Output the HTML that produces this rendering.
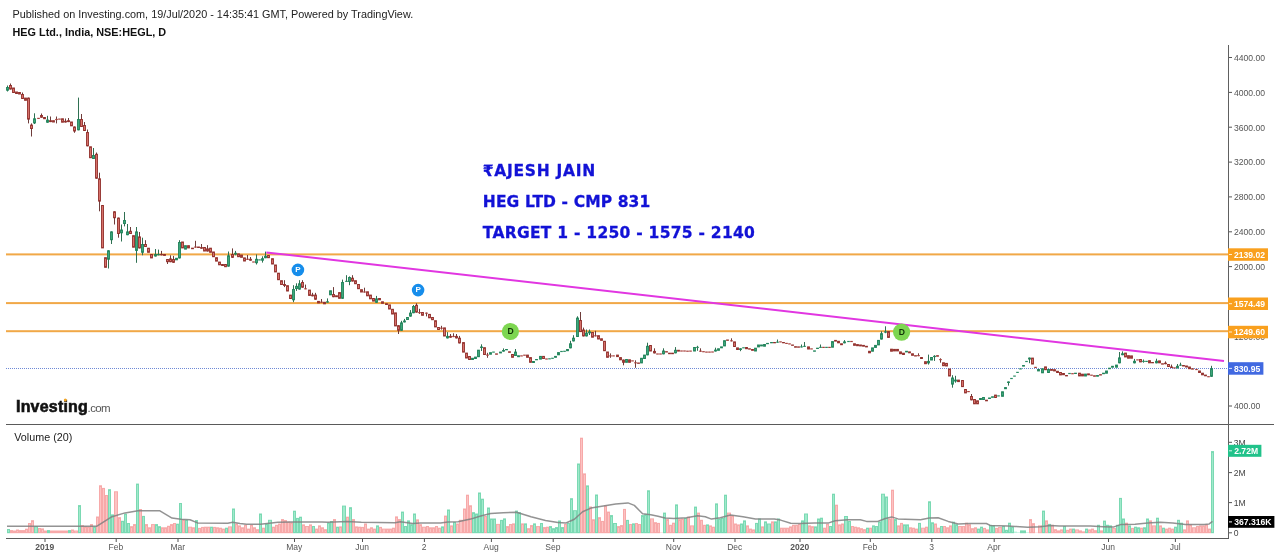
<!DOCTYPE html>
<html lang="en"><head><meta charset="utf-8"><title>HEG Ltd., India, NSE:HEGL, D</title>
<style>
html,body{margin:0;padding:0;background:#fff;}
body{width:1280px;height:557px;overflow:hidden;position:relative;font-family:"Liberation Sans",sans-serif;}
svg{position:absolute;left:0;top:0;display:block;}
text{font-family:"Liberation Sans",sans-serif;}
.ax{font-size:8.6px;fill:#555;}
.tm{font-size:8.5px;fill:#555;text-anchor:middle;}
.lb{font-size:8.6px;font-weight:bold;fill:#fff;}
.note{font-family:"DejaVu Sans","Liberation Sans",sans-serif;font-weight:bold;font-size:15.5px;fill:#1212d6;stroke:#1212d6;stroke-width:0.3px;}
.cu{fill:#45b083;stroke:#1f8259;stroke-width:1;}
.cd{fill:#e8827a;stroke:#902e2a;stroke-width:1;}
.wg{stroke:#2f7052;stroke-width:1;}
.wr{stroke:#6e3c3a;stroke-width:1;}
.vu{fill:#a0eacc;stroke:#7bd9b3;stroke-width:1;}
.vd{fill:#fcc3c3;stroke:#f7a9a9;stroke-width:1;}
</style></head><body>
<svg width="1280" height="557" viewBox="0 0 1280 557">
<rect x="0" y="0" width="1280" height="557" fill="#ffffff"/>
<text x="12.5" y="17.6" font-size="10.85px" fill="#222">Published on Investing.com, 19/Jul/2020 - 14:35:41 GMT, Powered by TradingView.</text>
<text x="12.5" y="35.6" font-size="10.85px" font-weight="bold" fill="#111">HEG Ltd., India, NSE:HEGL, D</text>
<rect x="6" y="253.4" width="1222.5" height="2" fill="#f0a137" opacity="0.92"/>
<rect x="6" y="302.1" width="1222.5" height="2" fill="#f0a137" opacity="0.92"/>
<rect x="6" y="330.2" width="1222.5" height="2" fill="#f0a137" opacity="0.92"/>
<line x1="6" y1="368.5" x2="1228" y2="368.5" stroke="#5575cf" stroke-width="1" stroke-dasharray="1 1" opacity="0.85"/>
<g>
<rect class="vu" x="7.5" y="529.50" width="2.0" height="3.20"/>
<rect class="vd" x="10.5" y="530.60" width="2.0" height="2.10"/>
<rect class="vd" x="13.5" y="531.00" width="2.0" height="1.70"/>
<rect class="vd" x="16.5" y="530.00" width="2.0" height="2.70"/>
<rect class="vd" x="19.5" y="530.60" width="2.0" height="2.10"/>
<rect class="vd" x="22.5" y="530.60" width="2.0" height="2.10"/>
<rect class="vd" x="25.5" y="529.20" width="2.0" height="3.50"/>
<rect class="vd" x="28.5" y="523.50" width="2.0" height="9.20"/>
<rect class="vd" x="31.5" y="520.70" width="2.0" height="12.00"/>
<rect class="vu" x="34.5" y="526.70" width="3.0" height="6.00"/>
<rect class="vd" x="38.5" y="528.50" width="2.0" height="4.20"/>
<rect class="vd" x="41.5" y="528.90" width="2.0" height="3.80"/>
<rect class="vd" x="44.5" y="531.00" width="2.0" height="1.70"/>
<rect class="vu" x="47.5" y="530.60" width="2.0" height="2.10"/>
<rect class="vd" x="50.5" y="531.00" width="2.0" height="1.70"/>
<rect class="vd" x="53.5" y="531.00" width="2.0" height="1.70"/>
<rect class="vd" x="56.5" y="531.00" width="2.0" height="1.70"/>
<rect class="vd" x="59.5" y="531.00" width="2.0" height="1.70"/>
<rect class="vd" x="62.5" y="531.00" width="2.0" height="1.70"/>
<rect class="vd" x="65.5" y="531.00" width="2.0" height="1.70"/>
<rect class="vu" x="68.5" y="530.60" width="2.0" height="2.10"/>
<rect class="vd" x="71.5" y="530.00" width="2.0" height="2.70"/>
<rect class="vd" x="74.5" y="531.00" width="3.0" height="1.70"/>
<rect class="vu" x="78.5" y="505.60" width="2.0" height="27.10"/>
<rect class="vd" x="81.5" y="525.70" width="2.0" height="7.00"/>
<rect class="vd" x="84.5" y="526.70" width="2.0" height="6.00"/>
<rect class="vd" x="87.5" y="527.20" width="2.0" height="5.50"/>
<rect class="vd" x="90.5" y="524.60" width="2.0" height="8.10"/>
<rect class="vu" x="93.5" y="527.20" width="2.0" height="5.50"/>
<rect class="vd" x="96.5" y="517.00" width="2.0" height="15.70"/>
<rect class="vd" x="99.5" y="485.80" width="2.0" height="46.90"/>
<rect class="vd" x="102.5" y="488.40" width="2.0" height="44.30"/>
<rect class="vd" x="105.5" y="495.50" width="2.0" height="37.20"/>
<rect class="vu" x="108.5" y="489.70" width="2.0" height="43.00"/>
<rect class="vu" x="111.5" y="514.90" width="2.0" height="17.80"/>
<rect class="vd" x="114.5" y="491.80" width="3.0" height="40.90"/>
<rect class="vd" x="118.5" y="517.70" width="2.0" height="15.00"/>
<rect class="vu" x="121.5" y="521.30" width="2.0" height="11.40"/>
<rect class="vu" x="124.5" y="514.20" width="2.0" height="18.50"/>
<rect class="vu" x="127.5" y="523.50" width="2.0" height="9.20"/>
<rect class="vd" x="130.5" y="526.70" width="2.0" height="6.00"/>
<rect class="vd" x="133.5" y="524.60" width="2.0" height="8.10"/>
<rect class="vu" x="136.5" y="484.10" width="2.0" height="48.60"/>
<rect class="vd" x="139.5" y="509.50" width="2.0" height="23.20"/>
<rect class="vu" x="142.5" y="516.40" width="2.0" height="16.30"/>
<rect class="vd" x="145.5" y="524.60" width="2.0" height="8.10"/>
<rect class="vd" x="148.5" y="527.80" width="2.0" height="4.90"/>
<rect class="vd" x="151.5" y="524.60" width="3.0" height="8.10"/>
<rect class="vu" x="155.5" y="524.60" width="2.0" height="8.10"/>
<rect class="vu" x="158.5" y="526.70" width="2.0" height="6.00"/>
<rect class="vd" x="161.5" y="527.80" width="2.0" height="4.90"/>
<rect class="vd" x="164.5" y="527.80" width="2.0" height="4.90"/>
<rect class="vd" x="167.5" y="526.30" width="2.0" height="6.40"/>
<rect class="vd" x="170.5" y="524.60" width="2.0" height="8.10"/>
<rect class="vd" x="173.5" y="523.50" width="2.0" height="9.20"/>
<rect class="vu" x="176.5" y="524.20" width="2.0" height="8.50"/>
<rect class="vu" x="179.5" y="503.50" width="2.0" height="29.20"/>
<rect class="vd" x="182.5" y="519.80" width="2.0" height="12.90"/>
<rect class="vu" x="185.5" y="520.30" width="2.0" height="12.40"/>
<rect class="vd" x="188.5" y="527.20" width="3.0" height="5.50"/>
<rect class="vd" x="192.5" y="527.80" width="2.0" height="4.90"/>
<rect class="vu" x="195.5" y="520.60" width="2.0" height="12.10"/>
<rect class="vd" x="198.5" y="528.40" width="2.0" height="4.30"/>
<rect class="vd" x="201.5" y="527.40" width="2.0" height="5.30"/>
<rect class="vd" x="204.5" y="527.20" width="2.0" height="5.50"/>
<rect class="vd" x="207.5" y="527.20" width="2.0" height="5.50"/>
<rect class="vu" x="210.5" y="527.20" width="2.0" height="5.50"/>
<rect class="vd" x="213.5" y="527.40" width="2.0" height="5.30"/>
<rect class="vd" x="216.5" y="527.80" width="2.0" height="4.90"/>
<rect class="vd" x="219.5" y="528.20" width="2.0" height="4.50"/>
<rect class="vd" x="222.5" y="529.10" width="2.0" height="3.60"/>
<rect class="vu" x="225.5" y="528.20" width="2.0" height="4.50"/>
<rect class="vd" x="228.5" y="526.90" width="3.0" height="5.80"/>
<rect class="vu" x="232.5" y="509.00" width="2.0" height="23.70"/>
<rect class="vd" x="235.5" y="524.00" width="2.0" height="8.70"/>
<rect class="vd" x="238.5" y="525.90" width="2.0" height="6.80"/>
<rect class="vd" x="241.5" y="527.80" width="2.0" height="4.90"/>
<rect class="vd" x="244.5" y="525.30" width="2.0" height="7.40"/>
<rect class="vd" x="247.5" y="529.10" width="2.0" height="3.60"/>
<rect class="vd" x="250.5" y="525.30" width="2.0" height="7.40"/>
<rect class="vd" x="253.5" y="527.80" width="2.0" height="4.90"/>
<rect class="vd" x="256.5" y="529.70" width="2.0" height="3.00"/>
<rect class="vu" x="259.5" y="514.00" width="2.0" height="18.70"/>
<rect class="vd" x="262.5" y="528.20" width="2.0" height="4.50"/>
<rect class="vu" x="265.5" y="524.00" width="2.0" height="8.70"/>
<rect class="vu" x="268.5" y="520.30" width="3.0" height="12.40"/>
<rect class="vd" x="272.5" y="527.20" width="2.0" height="5.50"/>
<rect class="vd" x="275.5" y="525.30" width="2.0" height="7.40"/>
<rect class="vd" x="278.5" y="524.00" width="2.0" height="8.70"/>
<rect class="vd" x="281.5" y="519.60" width="2.0" height="13.10"/>
<rect class="vd" x="284.5" y="520.60" width="2.0" height="12.10"/>
<rect class="vd" x="287.5" y="522.20" width="2.0" height="10.50"/>
<rect class="vd" x="290.5" y="522.80" width="2.0" height="9.90"/>
<rect class="vu" x="293.5" y="511.20" width="2.0" height="21.50"/>
<rect class="vu" x="296.5" y="518.40" width="2.0" height="14.30"/>
<rect class="vu" x="299.5" y="517.20" width="2.0" height="15.50"/>
<rect class="vd" x="302.5" y="524.90" width="2.0" height="7.80"/>
<rect class="vd" x="305.5" y="526.50" width="3.0" height="6.20"/>
<rect class="vd" x="309.5" y="524.90" width="2.0" height="7.80"/>
<rect class="vu" x="312.5" y="526.50" width="2.0" height="6.20"/>
<rect class="vd" x="315.5" y="529.10" width="2.0" height="3.60"/>
<rect class="vd" x="318.5" y="525.90" width="2.0" height="6.80"/>
<rect class="vd" x="321.5" y="527.80" width="2.0" height="4.90"/>
<rect class="vd" x="324.5" y="529.70" width="2.0" height="3.00"/>
<rect class="vu" x="327.5" y="523.20" width="2.0" height="9.50"/>
<rect class="vu" x="330.5" y="521.50" width="2.0" height="11.20"/>
<rect class="vd" x="333.5" y="519.60" width="2.0" height="13.10"/>
<rect class="vu" x="336.5" y="527.20" width="2.0" height="5.50"/>
<rect class="vd" x="339.5" y="526.90" width="2.0" height="5.80"/>
<rect class="vu" x="342.5" y="506.10" width="3.0" height="26.60"/>
<rect class="vd" x="346.5" y="517.20" width="2.0" height="15.50"/>
<rect class="vu" x="349.5" y="507.70" width="2.0" height="25.00"/>
<rect class="vd" x="352.5" y="519.60" width="2.0" height="13.10"/>
<rect class="vd" x="355.5" y="526.90" width="2.0" height="5.80"/>
<rect class="vd" x="358.5" y="527.20" width="2.0" height="5.50"/>
<rect class="vd" x="361.5" y="527.40" width="2.0" height="5.30"/>
<rect class="vd" x="364.5" y="524.00" width="2.0" height="8.70"/>
<rect class="vd" x="367.5" y="529.10" width="2.0" height="3.60"/>
<rect class="vd" x="370.5" y="527.80" width="2.0" height="4.90"/>
<rect class="vd" x="373.5" y="529.10" width="2.0" height="3.60"/>
<rect class="vu" x="376.5" y="525.90" width="2.0" height="6.80"/>
<rect class="vd" x="379.5" y="527.40" width="2.0" height="5.30"/>
<rect class="vd" x="382.5" y="529.10" width="3.0" height="3.60"/>
<rect class="vd" x="386.5" y="529.10" width="2.0" height="3.60"/>
<rect class="vd" x="389.5" y="529.10" width="2.0" height="3.60"/>
<rect class="vd" x="392.5" y="528.20" width="2.0" height="4.50"/>
<rect class="vd" x="395.5" y="516.90" width="2.0" height="15.80"/>
<rect class="vd" x="398.5" y="519.60" width="2.0" height="13.10"/>
<rect class="vu" x="401.5" y="512.10" width="2.0" height="20.60"/>
<rect class="vu" x="404.5" y="526.50" width="2.0" height="6.20"/>
<rect class="vu" x="407.5" y="520.90" width="2.0" height="11.80"/>
<rect class="vu" x="410.5" y="524.70" width="2.0" height="8.00"/>
<rect class="vu" x="413.5" y="514.00" width="2.0" height="18.70"/>
<rect class="vd" x="416.5" y="519.90" width="2.0" height="12.80"/>
<rect class="vd" x="419.5" y="524.70" width="2.0" height="8.00"/>
<rect class="vd" x="422.5" y="527.20" width="3.0" height="5.50"/>
<rect class="vd" x="426.5" y="526.50" width="2.0" height="6.20"/>
<rect class="vd" x="429.5" y="527.80" width="2.0" height="4.90"/>
<rect class="vd" x="432.5" y="527.80" width="2.0" height="4.90"/>
<rect class="vd" x="435.5" y="526.50" width="2.0" height="6.20"/>
<rect class="vd" x="438.5" y="528.20" width="2.0" height="4.50"/>
<rect class="vu" x="441.5" y="526.90" width="2.0" height="5.80"/>
<rect class="vd" x="444.5" y="516.10" width="2.0" height="16.60"/>
<rect class="vu" x="447.5" y="510.00" width="2.0" height="22.70"/>
<rect class="vd" x="450.5" y="525.90" width="2.0" height="6.80"/>
<rect class="vu" x="453.5" y="522.40" width="2.0" height="10.30"/>
<rect class="vd" x="456.5" y="524.00" width="2.0" height="8.70"/>
<rect class="vd" x="459.5" y="520.30" width="3.0" height="12.40"/>
<rect class="vd" x="463.5" y="509.00" width="2.0" height="23.70"/>
<rect class="vd" x="466.5" y="495.20" width="2.0" height="37.50"/>
<rect class="vd" x="469.5" y="505.80" width="2.0" height="26.90"/>
<rect class="vu" x="472.5" y="512.70" width="2.0" height="20.00"/>
<rect class="vu" x="475.5" y="514.00" width="2.0" height="18.70"/>
<rect class="vu" x="478.5" y="493.00" width="2.0" height="39.70"/>
<rect class="vu" x="481.5" y="499.20" width="2.0" height="33.50"/>
<rect class="vd" x="484.5" y="516.50" width="2.0" height="16.20"/>
<rect class="vu" x="487.5" y="508.00" width="2.0" height="24.70"/>
<rect class="vu" x="490.5" y="519.00" width="2.0" height="13.70"/>
<rect class="vu" x="493.5" y="519.00" width="2.0" height="13.70"/>
<rect class="vd" x="496.5" y="524.40" width="3.0" height="8.30"/>
<rect class="vu" x="500.5" y="520.40" width="2.0" height="12.30"/>
<rect class="vu" x="503.5" y="518.90" width="2.0" height="13.80"/>
<rect class="vd" x="506.5" y="526.60" width="2.0" height="6.10"/>
<rect class="vd" x="509.5" y="524.50" width="2.0" height="8.20"/>
<rect class="vd" x="512.5" y="523.90" width="2.0" height="8.80"/>
<rect class="vu" x="515.5" y="511.10" width="2.0" height="21.60"/>
<rect class="vu" x="518.5" y="512.70" width="2.0" height="20.00"/>
<rect class="vd" x="521.5" y="523.90" width="2.0" height="8.80"/>
<rect class="vu" x="524.5" y="523.90" width="2.0" height="8.80"/>
<rect class="vd" x="527.5" y="528.70" width="2.0" height="4.00"/>
<rect class="vd" x="530.5" y="525.60" width="2.0" height="7.10"/>
<rect class="vu" x="533.5" y="523.90" width="2.0" height="8.80"/>
<rect class="vd" x="536.5" y="526.60" width="3.0" height="6.10"/>
<rect class="vu" x="540.5" y="523.50" width="2.0" height="9.20"/>
<rect class="vd" x="543.5" y="527.60" width="2.0" height="5.10"/>
<rect class="vd" x="546.5" y="527.20" width="2.0" height="5.50"/>
<rect class="vu" x="549.5" y="526.60" width="2.0" height="6.10"/>
<rect class="vu" x="552.5" y="528.70" width="2.0" height="4.00"/>
<rect class="vu" x="555.5" y="527.60" width="2.0" height="5.10"/>
<rect class="vu" x="558.5" y="521.00" width="2.0" height="11.70"/>
<rect class="vu" x="561.5" y="527.60" width="2.0" height="5.10"/>
<rect class="vd" x="564.5" y="524.50" width="2.0" height="8.20"/>
<rect class="vu" x="567.5" y="523.50" width="2.0" height="9.20"/>
<rect class="vu" x="570.5" y="498.70" width="2.0" height="34.00"/>
<rect class="vu" x="573.5" y="510.70" width="3.0" height="22.00"/>
<rect class="vu" x="577.5" y="464.00" width="2.0" height="68.70"/>
<rect class="vd" x="580.5" y="438.20" width="2.0" height="94.50"/>
<rect class="vd" x="583.5" y="473.90" width="2.0" height="58.80"/>
<rect class="vu" x="586.5" y="485.90" width="2.0" height="46.80"/>
<rect class="vd" x="589.5" y="507.00" width="2.0" height="25.70"/>
<rect class="vd" x="592.5" y="519.80" width="2.0" height="12.90"/>
<rect class="vu" x="595.5" y="495.00" width="2.0" height="37.70"/>
<rect class="vd" x="598.5" y="517.70" width="2.0" height="15.00"/>
<rect class="vd" x="601.5" y="521.40" width="2.0" height="11.30"/>
<rect class="vd" x="604.5" y="505.90" width="2.0" height="26.80"/>
<rect class="vd" x="607.5" y="512.10" width="2.0" height="20.60"/>
<rect class="vu" x="610.5" y="515.60" width="2.0" height="17.10"/>
<rect class="vu" x="613.5" y="523.50" width="3.0" height="9.20"/>
<rect class="vd" x="617.5" y="526.60" width="2.0" height="6.10"/>
<rect class="vd" x="620.5" y="525.60" width="2.0" height="7.10"/>
<rect class="vd" x="623.5" y="509.40" width="2.0" height="23.30"/>
<rect class="vu" x="626.5" y="520.40" width="2.0" height="12.30"/>
<rect class="vd" x="629.5" y="524.50" width="2.0" height="8.20"/>
<rect class="vu" x="632.5" y="523.90" width="2.0" height="8.80"/>
<rect class="vd" x="635.5" y="523.50" width="2.0" height="9.20"/>
<rect class="vd" x="638.5" y="524.50" width="2.0" height="8.20"/>
<rect class="vu" x="641.5" y="515.60" width="2.0" height="17.10"/>
<rect class="vu" x="644.5" y="514.80" width="2.0" height="17.90"/>
<rect class="vu" x="647.5" y="490.80" width="2.0" height="41.90"/>
<rect class="vd" x="650.5" y="518.90" width="3.0" height="13.80"/>
<rect class="vd" x="654.5" y="522.70" width="2.0" height="10.00"/>
<rect class="vd" x="657.5" y="523.40" width="2.0" height="9.30"/>
<rect class="vd" x="660.0" y="532.20" width="3.0" height="0.50" style="stroke:none"/>
<rect class="vu" x="663.5" y="513.10" width="2.0" height="19.60"/>
<rect class="vd" x="666.5" y="519.60" width="2.0" height="13.10"/>
<rect class="vd" x="669.5" y="525.30" width="2.0" height="7.40"/>
<rect class="vd" x="672.5" y="523.20" width="2.0" height="9.50"/>
<rect class="vu" x="675.5" y="504.90" width="2.0" height="27.80"/>
<rect class="vd" x="678.5" y="519.60" width="2.0" height="13.10"/>
<rect class="vd" x="681.5" y="519.00" width="2.0" height="13.70"/>
<rect class="vu" x="684.5" y="518.40" width="2.0" height="14.30"/>
<rect class="vd" x="687.5" y="517.20" width="2.0" height="15.50"/>
<rect class="vd" x="690.5" y="525.90" width="3.0" height="6.80"/>
<rect class="vu" x="694.5" y="507.10" width="2.0" height="25.60"/>
<rect class="vd" x="697.5" y="513.10" width="2.0" height="19.60"/>
<rect class="vd" x="700.5" y="520.30" width="2.0" height="12.40"/>
<rect class="vd" x="703.5" y="525.30" width="2.0" height="7.40"/>
<rect class="vu" x="706.5" y="524.90" width="2.0" height="7.80"/>
<rect class="vd" x="709.5" y="525.90" width="2.0" height="6.80"/>
<rect class="vd" x="712.5" y="527.20" width="2.0" height="5.50"/>
<rect class="vu" x="715.5" y="503.90" width="2.0" height="28.80"/>
<rect class="vu" x="718.5" y="519.00" width="2.0" height="13.70"/>
<rect class="vu" x="721.5" y="518.40" width="2.0" height="14.30"/>
<rect class="vu" x="724.5" y="495.20" width="2.0" height="37.50"/>
<rect class="vd" x="727.5" y="513.10" width="3.0" height="19.60"/>
<rect class="vd" x="731.5" y="515.90" width="2.0" height="16.80"/>
<rect class="vd" x="734.5" y="524.00" width="2.0" height="8.70"/>
<rect class="vd" x="737.5" y="524.90" width="2.0" height="7.80"/>
<rect class="vu" x="740.5" y="524.00" width="2.0" height="8.70"/>
<rect class="vu" x="743.5" y="520.90" width="2.0" height="11.80"/>
<rect class="vd" x="746.5" y="525.90" width="2.0" height="6.80"/>
<rect class="vd" x="749.5" y="529.10" width="2.0" height="3.60"/>
<rect class="vd" x="752.5" y="529.90" width="2.0" height="2.80"/>
<rect class="vu" x="755.5" y="523.40" width="2.0" height="9.30"/>
<rect class="vu" x="758.5" y="519.00" width="2.0" height="13.70"/>
<rect class="vd" x="761.5" y="526.90" width="2.0" height="5.80"/>
<rect class="vu" x="764.5" y="521.90" width="2.0" height="10.80"/>
<rect class="vu" x="767.5" y="524.00" width="3.0" height="8.70"/>
<rect class="vd" x="771.5" y="521.90" width="2.0" height="10.80"/>
<rect class="vu" x="774.5" y="521.90" width="2.0" height="10.80"/>
<rect class="vu" x="777.5" y="519.00" width="2.0" height="13.70"/>
<rect class="vd" x="780.5" y="528.20" width="2.0" height="4.50"/>
<rect class="vd" x="783.5" y="528.20" width="2.0" height="4.50"/>
<rect class="vd" x="786.5" y="528.20" width="2.0" height="4.50"/>
<rect class="vd" x="789.5" y="526.90" width="2.0" height="5.80"/>
<rect class="vd" x="792.5" y="525.30" width="2.0" height="7.40"/>
<rect class="vd" x="795.5" y="525.30" width="2.0" height="7.40"/>
<rect class="vd" x="798.5" y="524.40" width="2.0" height="8.30"/>
<rect class="vu" x="801.5" y="520.90" width="2.0" height="11.80"/>
<rect class="vu" x="804.5" y="514.00" width="3.0" height="18.70"/>
<rect class="vd" x="808.5" y="525.90" width="2.0" height="6.80"/>
<rect class="vd" x="811.5" y="526.70" width="2.0" height="6.00"/>
<rect class="vu" x="814.5" y="526.90" width="2.0" height="5.80"/>
<rect class="vu" x="817.5" y="519.00" width="2.0" height="13.70"/>
<rect class="vu" x="820.5" y="518.20" width="2.0" height="14.50"/>
<rect class="vd" x="823.5" y="528.20" width="2.0" height="4.50"/>
<rect class="vd" x="826.5" y="524.40" width="2.0" height="8.30"/>
<rect class="vu" x="829.5" y="526.50" width="2.0" height="6.20"/>
<rect class="vu" x="832.5" y="494.20" width="2.0" height="38.50"/>
<rect class="vd" x="835.5" y="505.20" width="2.0" height="27.50"/>
<rect class="vd" x="838.5" y="524.90" width="2.0" height="7.80"/>
<rect class="vd" x="841.5" y="524.00" width="2.0" height="8.70"/>
<rect class="vu" x="844.5" y="516.50" width="3.0" height="16.20"/>
<rect class="vu" x="848.5" y="521.50" width="2.0" height="11.20"/>
<rect class="vd" x="851.5" y="526.50" width="2.0" height="6.20"/>
<rect class="vd" x="854.5" y="527.20" width="2.0" height="5.50"/>
<rect class="vd" x="857.5" y="527.80" width="2.0" height="4.90"/>
<rect class="vd" x="860.5" y="528.70" width="2.0" height="4.00"/>
<rect class="vd" x="863.5" y="529.70" width="2.0" height="3.00"/>
<rect class="vu" x="866.5" y="528.20" width="2.0" height="4.50"/>
<rect class="vd" x="869.5" y="528.20" width="2.0" height="4.50"/>
<rect class="vu" x="872.5" y="525.90" width="2.0" height="6.80"/>
<rect class="vu" x="875.5" y="526.50" width="2.0" height="6.20"/>
<rect class="vu" x="878.5" y="521.90" width="2.0" height="10.80"/>
<rect class="vu" x="881.5" y="494.20" width="3.0" height="38.50"/>
<rect class="vu" x="885.5" y="497.00" width="2.0" height="35.70"/>
<rect class="vd" x="888.5" y="519.00" width="2.0" height="13.70"/>
<rect class="vd" x="891.5" y="490.20" width="2.0" height="42.50"/>
<rect class="vu" x="894.5" y="519.60" width="2.0" height="13.10"/>
<rect class="vd" x="897.5" y="525.90" width="2.0" height="6.80"/>
<rect class="vd" x="900.5" y="523.40" width="2.0" height="9.30"/>
<rect class="vu" x="903.5" y="524.90" width="2.0" height="7.80"/>
<rect class="vu" x="906.5" y="524.90" width="2.0" height="7.80"/>
<rect class="vd" x="909.5" y="527.80" width="2.0" height="4.90"/>
<rect class="vd" x="912.5" y="528.20" width="2.0" height="4.50"/>
<rect class="vd" x="915.5" y="529.10" width="2.0" height="3.60"/>
<rect class="vu" x="918.5" y="523.40" width="2.0" height="9.30"/>
<rect class="vd" x="921.5" y="528.20" width="3.0" height="4.50"/>
<rect class="vd" x="925.5" y="527.20" width="2.0" height="5.50"/>
<rect class="vu" x="928.5" y="501.80" width="2.0" height="30.90"/>
<rect class="vu" x="931.5" y="522.80" width="2.0" height="9.90"/>
<rect class="vd" x="934.5" y="524.00" width="2.0" height="8.70"/>
<rect class="vd" x="937.5" y="528.20" width="2.0" height="4.50"/>
<rect class="vu" x="940.5" y="526.50" width="2.0" height="6.20"/>
<rect class="vd" x="943.5" y="526.50" width="2.0" height="6.20"/>
<rect class="vd" x="946.5" y="527.80" width="2.0" height="4.90"/>
<rect class="vd" x="949.5" y="525.90" width="2.0" height="6.80"/>
<rect class="vu" x="952.5" y="522.20" width="2.0" height="10.50"/>
<rect class="vu" x="955.5" y="524.70" width="2.0" height="8.00"/>
<rect class="vd" x="958.5" y="526.50" width="3.0" height="6.20"/>
<rect class="vd" x="962.5" y="526.50" width="2.0" height="6.20"/>
<rect class="vd" x="965.5" y="523.20" width="2.0" height="9.50"/>
<rect class="vd" x="968.5" y="524.70" width="2.0" height="8.00"/>
<rect class="vd" x="971.5" y="528.70" width="2.0" height="4.00"/>
<rect class="vd" x="974.5" y="527.80" width="2.0" height="4.90"/>
<rect class="vu" x="977.5" y="529.10" width="2.0" height="3.60"/>
<rect class="vu" x="980.5" y="527.20" width="2.0" height="5.50"/>
<rect class="vd" x="983.5" y="528.40" width="2.0" height="4.30"/>
<rect class="vd" x="986.5" y="529.90" width="2.0" height="2.80"/>
<rect class="vu" x="989.5" y="525.30" width="2.0" height="7.40"/>
<rect class="vu" x="992.5" y="525.70" width="2.0" height="7.00"/>
<rect class="vd" x="995.5" y="528.40" width="2.0" height="4.30"/>
<rect class="vd" x="998.5" y="527.40" width="3.0" height="5.30"/>
<rect class="vu" x="1002.5" y="526.50" width="2.0" height="6.20"/>
<rect class="vu" x="1005.5" y="530.30" width="2.0" height="2.40"/>
<rect class="vu" x="1008.5" y="523.20" width="2.0" height="9.50"/>
<rect class="vu" x="1011.5" y="527.20" width="2.0" height="5.50"/>
<rect class="vu" x="1014.0" y="531.70" width="3.0" height="1.00" style="stroke:none"/>
<rect class="vu" x="1017.0" y="532.20" width="3.0" height="0.50" style="stroke:none"/>
<rect class="vu" x="1020.5" y="530.90" width="2.0" height="1.80"/>
<rect class="vu" x="1023.5" y="530.90" width="2.0" height="1.80"/>
<rect class="vu" x="1026.0" y="532.20" width="3.0" height="0.50" style="stroke:none"/>
<rect class="vd" x="1029.5" y="519.60" width="2.0" height="13.10"/>
<rect class="vd" x="1032.5" y="523.70" width="2.0" height="9.00"/>
<rect class="vd" x="1035.0" y="532.30" width="3.0" height="0.40" style="stroke:none"/>
<rect class="vd" x="1038.5" y="525.90" width="3.0" height="6.80"/>
<rect class="vu" x="1042.5" y="511.10" width="2.0" height="21.60"/>
<rect class="vd" x="1045.5" y="520.90" width="2.0" height="11.80"/>
<rect class="vu" x="1048.5" y="524.40" width="2.0" height="8.30"/>
<rect class="vd" x="1051.5" y="525.30" width="2.0" height="7.40"/>
<rect class="vd" x="1054.5" y="529.70" width="2.0" height="3.00"/>
<rect class="vd" x="1057.5" y="530.90" width="2.0" height="1.80"/>
<rect class="vd" x="1060.5" y="529.90" width="2.0" height="2.80"/>
<rect class="vu" x="1063.5" y="526.50" width="2.0" height="6.20"/>
<rect class="vd" x="1066.5" y="530.30" width="2.0" height="2.40"/>
<rect class="vd" x="1069.5" y="529.10" width="2.0" height="3.60"/>
<rect class="vu" x="1072.5" y="529.10" width="2.0" height="3.60"/>
<rect class="vd" x="1075.5" y="529.90" width="3.0" height="2.80"/>
<rect class="vd" x="1079.5" y="530.90" width="2.0" height="1.80"/>
<rect class="vd" x="1082.5" y="531.90" width="2.0" height="0.80"/>
<rect class="vu" x="1085.5" y="529.10" width="2.0" height="3.60"/>
<rect class="vd" x="1088.5" y="529.90" width="2.0" height="2.80"/>
<rect class="vd" x="1091.5" y="529.10" width="2.0" height="3.60"/>
<rect class="vd" x="1094.5" y="530.70" width="2.0" height="2.00"/>
<rect class="vu" x="1097.5" y="525.30" width="2.0" height="7.40"/>
<rect class="vd" x="1100.5" y="530.90" width="2.0" height="1.80"/>
<rect class="vu" x="1103.5" y="521.10" width="2.0" height="11.60"/>
<rect class="vu" x="1106.5" y="525.30" width="2.0" height="7.40"/>
<rect class="vu" x="1109.5" y="525.90" width="2.0" height="6.80"/>
<rect class="vd" x="1112.5" y="528.40" width="3.0" height="4.30"/>
<rect class="vu" x="1116.5" y="525.30" width="2.0" height="7.40"/>
<rect class="vu" x="1119.5" y="498.40" width="2.0" height="34.30"/>
<rect class="vu" x="1122.5" y="519.00" width="2.0" height="13.70"/>
<rect class="vd" x="1125.5" y="523.20" width="2.0" height="9.50"/>
<rect class="vu" x="1128.5" y="525.90" width="2.0" height="6.80"/>
<rect class="vd" x="1131.5" y="528.40" width="2.0" height="4.30"/>
<rect class="vu" x="1134.5" y="527.20" width="2.0" height="5.50"/>
<rect class="vu" x="1137.5" y="527.80" width="2.0" height="4.90"/>
<rect class="vd" x="1140.5" y="528.20" width="2.0" height="4.50"/>
<rect class="vu" x="1143.5" y="527.80" width="2.0" height="4.90"/>
<rect class="vu" x="1146.5" y="519.00" width="2.0" height="13.70"/>
<rect class="vd" x="1149.5" y="520.90" width="2.0" height="11.80"/>
<rect class="vd" x="1152.5" y="525.90" width="3.0" height="6.80"/>
<rect class="vu" x="1156.5" y="518.20" width="2.0" height="14.50"/>
<rect class="vd" x="1159.5" y="525.90" width="2.0" height="6.80"/>
<rect class="vu" x="1162.5" y="528.20" width="2.0" height="4.50"/>
<rect class="vd" x="1165.5" y="529.10" width="2.0" height="3.60"/>
<rect class="vd" x="1168.5" y="528.20" width="2.0" height="4.50"/>
<rect class="vd" x="1171.5" y="529.10" width="2.0" height="3.60"/>
<rect class="vu" x="1174.5" y="527.20" width="2.0" height="5.50"/>
<rect class="vu" x="1177.5" y="520.30" width="2.0" height="12.40"/>
<rect class="vu" x="1180.5" y="523.20" width="2.0" height="9.50"/>
<rect class="vd" x="1183.5" y="529.90" width="2.0" height="2.80"/>
<rect class="vd" x="1186.5" y="520.90" width="2.0" height="11.80"/>
<rect class="vd" x="1189.5" y="524.90" width="2.0" height="7.80"/>
<rect class="vd" x="1192.5" y="527.80" width="3.0" height="4.90"/>
<rect class="vd" x="1196.5" y="526.50" width="2.0" height="6.20"/>
<rect class="vd" x="1199.5" y="525.90" width="2.0" height="6.80"/>
<rect class="vd" x="1202.5" y="525.90" width="2.0" height="6.80"/>
<rect class="vd" x="1205.5" y="524.90" width="2.0" height="7.80"/>
<rect class="vd" x="1208.5" y="529.10" width="2.0" height="3.60"/>
<rect class="vu" x="1211.5" y="451.60" width="2.0" height="81.10"/>
</g>
<polyline points="7.0,526.2 97.0,526.2 112.0,516.7 125.0,512.9 138.0,510.7 159.5,510.7 172.0,518.1 181.0,519.3 190.0,519.8 197.5,522.9 227.7,523.2 232.7,522.3 240.0,523.4 246.5,524.2 260.4,524.2 278.0,522.3 290.5,521.9 322.0,521.9 328.0,522.3 347.0,521.6 361.3,522.3 395.0,522.7 400.3,521.7 412.8,523.5 420.4,522.9 440.5,522.9 448.0,521.9 458.0,521.7 470.6,519.1 480.7,516.0 490.7,513.5 503.3,512.7 516.5,512.2 531.0,516.8 545.5,520.5 557.9,522.6 566.0,523.0 574.4,519.3 582.6,511.7 591.0,508.1 603.3,506.0 615.7,504.0 628.0,502.9 634.3,505.4 642.6,513.7 650.8,514.7 658.0,516.2 665.0,517.9 673.8,518.5 686.4,517.7 697.7,515.7 705.3,516.7 711.5,519.1 720.3,517.7 730.4,515.1 743.0,516.7 755.5,518.9 774.3,519.1 780.6,520.1 790.7,523.2 799.5,523.5 814.5,522.9 828.8,522.9 835.1,520.7 847.7,519.7 860.3,519.7 866.5,521.4 877.8,521.4 885.4,518.5 891.7,516.9 898.0,518.9 920.6,519.7 929.3,517.9 938.1,517.7 948.2,521.4 958.2,523.9 969.5,523.5 986.4,523.5 990.1,525.4 1007.7,526.0 1015.3,526.4 1027.8,527.3 1040.4,526.7 1050.4,525.4 1059.2,526.0 1090.6,526.0 1103.2,526.7 1113.2,527.1 1121.3,524.4 1135.1,524.2 1147.7,522.9 1160.3,522.3 1172.8,522.9 1185.4,524.4 1204.2,524.4 1209.2,523.9 1212.5,521.4" fill="none" stroke="#808080" stroke-width="1.5" stroke-linejoin="round" opacity="0.85"/>
<g>
<line class="wg" x1="7.50" y1="85.5" x2="7.50" y2="91.5"/>
<rect class="cu" x="6.60" y="87.5" width="1.8" height="2.7"/>
<line class="wr" x1="10.50" y1="83.5" x2="10.50" y2="89.5"/>
<rect class="cd" x="9.60" y="85.5" width="1.8" height="3.5"/>
<rect class="cd" x="12.60" y="88.0" width="1.8" height="4.5"/>
<rect class="cd" x="15.60" y="92.0" width="1.8" height="1.5"/>
<rect class="cd" x="18.60" y="92.5" width="1.8" height="1.5"/>
<line class="wr" x1="22.50" y1="92.5" x2="22.50" y2="99.0"/>
<rect class="cd" x="21.60" y="94.5" width="1.8" height="4.0"/>
<rect class="cd" x="24.60" y="98.1" width="1.8" height="2.2"/>
<line class="wr" x1="28.50" y1="97.6" x2="28.50" y2="123.4"/>
<rect class="cd" x="27.60" y="98.1" width="1.8" height="21.0"/>
<line class="wr" x1="31.50" y1="123.4" x2="31.50" y2="136.5"/>
<rect class="cd" x="30.60" y="125.1" width="1.8" height="3.4"/>
<line class="wg" x1="34.50" y1="113.3" x2="34.50" y2="124.0"/>
<rect class="cu" x="33.60" y="118.8" width="1.8" height="4.1"/>
<rect x="37.20" y="117.8" width="2.6" height="1.2" fill="#a8413c"/>
<line class="wr" x1="41.50" y1="113.5" x2="41.50" y2="117.7"/>
<rect class="cd" x="40.60" y="115.5" width="1.8" height="1.7"/>
<rect class="cd" x="43.60" y="117.5" width="1.8" height="1.2"/>
<line class="wg" x1="47.50" y1="115.8" x2="47.50" y2="122.7"/>
<rect class="cu" x="46.60" y="120.1" width="1.8" height="2.1"/>
<line class="wr" x1="50.50" y1="116.5" x2="50.50" y2="122.1"/>
<rect class="cd" x="49.60" y="120.7" width="1.8" height="0.9"/>
<rect class="cd" x="52.60" y="120.7" width="1.8" height="1.3"/>
<line class="wr" x1="56.50" y1="116.5" x2="56.50" y2="123.4"/>
<rect x="55.20" y="118.9" width="2.6" height="1.2" fill="#a8413c"/>
<rect x="58.20" y="118.5" width="2.6" height="1.2" fill="#a8413c"/>
<rect class="cd" x="61.60" y="118.8" width="1.8" height="3.4"/>
<line class="wr" x1="65.50" y1="118.5" x2="65.50" y2="122.5"/>
<rect class="cd" x="64.60" y="121.3" width="1.8" height="0.7"/>
<line class="wr" x1="68.50" y1="118.0" x2="68.50" y2="122.1"/>
<rect class="cd" x="67.60" y="120.7" width="1.8" height="0.9"/>
<rect class="cd" x="70.60" y="122.0" width="1.8" height="3.8"/>
<line class="wr" x1="74.50" y1="126.5" x2="74.50" y2="132.8"/>
<rect class="cd" x="73.60" y="127.0" width="1.8" height="4.0"/>
<line class="wg" x1="78.50" y1="97.6" x2="78.50" y2="130.3"/>
<rect class="cu" x="77.60" y="119.5" width="1.8" height="10.3"/>
<line class="wr" x1="81.50" y1="114.0" x2="81.50" y2="127.0"/>
<rect class="cd" x="80.60" y="119.5" width="1.8" height="7.0"/>
<line class="wr" x1="84.50" y1="122.0" x2="84.50" y2="131.0"/>
<rect class="cd" x="83.60" y="125.5" width="1.8" height="5.0"/>
<line class="wr" x1="87.50" y1="129.5" x2="87.50" y2="146.3"/>
<rect class="cd" x="86.60" y="132.5" width="1.8" height="13.3"/>
<rect class="cd" x="89.60" y="146.8" width="1.8" height="10.9"/>
<line class="wg" x1="93.50" y1="148.0" x2="93.50" y2="159.0"/>
<rect class="cu" x="92.60" y="155.5" width="1.8" height="3.0"/>
<line class="wr" x1="96.50" y1="152.5" x2="96.50" y2="178.7"/>
<rect class="cd" x="95.60" y="154.3" width="1.8" height="23.9"/>
<line class="wr" x1="99.50" y1="172.7" x2="99.50" y2="211.3"/>
<rect class="cd" x="98.60" y="178.8" width="1.8" height="22.3"/>
<rect class="cd" x="101.60" y="205.5" width="1.8" height="42.4"/>
<rect class="cd" x="104.60" y="257.7" width="1.8" height="9.6"/>
<line class="wg" x1="108.50" y1="250.3" x2="108.50" y2="268.5"/>
<rect class="cu" x="107.60" y="250.8" width="1.8" height="8.4"/>
<line class="wg" x1="111.50" y1="231.4" x2="111.50" y2="244.0"/>
<rect class="cu" x="110.60" y="231.9" width="1.8" height="7.8"/>
<line class="wr" x1="114.50" y1="211.3" x2="114.50" y2="224.5"/>
<rect class="cd" x="113.60" y="211.8" width="1.8" height="5.9"/>
<line class="wr" x1="118.50" y1="217.6" x2="118.50" y2="237.7"/>
<rect class="cd" x="117.60" y="218.1" width="1.8" height="15.4"/>
<line class="wg" x1="121.50" y1="224.5" x2="121.50" y2="241.5"/>
<rect class="cu" x="120.60" y="230.0" width="1.8" height="2.8"/>
<line class="wg" x1="124.50" y1="212.0" x2="124.50" y2="226.4"/>
<rect class="cu" x="123.60" y="220.5" width="1.8" height="3.0"/>
<line class="wg" x1="127.50" y1="224.0" x2="127.50" y2="235.2"/>
<rect class="cu" x="126.60" y="231.9" width="1.8" height="2.8"/>
<line class="wr" x1="130.50" y1="227.0" x2="130.50" y2="234.0"/>
<rect class="cd" x="129.60" y="231.3" width="1.8" height="2.2"/>
<rect class="cd" x="132.60" y="235.7" width="1.8" height="11.5"/>
<line class="wg" x1="136.50" y1="227.0" x2="136.50" y2="262.8"/>
<rect class="cu" x="135.60" y="231.9" width="1.8" height="18.5"/>
<line class="wr" x1="139.50" y1="232.0" x2="139.50" y2="248.4"/>
<rect class="cd" x="138.60" y="236.9" width="1.8" height="11.0"/>
<line class="wg" x1="142.50" y1="237.7" x2="142.50" y2="255.3"/>
<rect class="cu" x="141.60" y="244.5" width="1.8" height="7.8"/>
<line class="wr" x1="145.50" y1="240.2" x2="145.50" y2="247.0"/>
<rect class="cd" x="144.60" y="244.5" width="1.8" height="2.0"/>
<rect class="cd" x="147.60" y="248.2" width="1.8" height="4.1"/>
<rect class="cd" x="150.60" y="254.5" width="1.8" height="3.4"/>
<line class="wg" x1="155.50" y1="249.0" x2="155.50" y2="256.5"/>
<rect class="cu" x="154.60" y="254.5" width="1.8" height="1.5"/>
<line class="wg" x1="158.50" y1="249.6" x2="158.50" y2="255.3"/>
<rect class="cu" x="157.60" y="254.5" width="1.8" height="0.3"/>
<line class="wr" x1="161.50" y1="250.9" x2="161.50" y2="255.3"/>
<rect class="cd" x="160.60" y="254.5" width="1.8" height="0.3"/>
<rect class="cd" x="163.60" y="254.5" width="1.8" height="0.9"/>
<line class="wr" x1="167.50" y1="259.0" x2="167.50" y2="264.0"/>
<rect class="cd" x="166.60" y="259.5" width="1.8" height="2.2"/>
<line class="wr" x1="170.50" y1="255.3" x2="170.50" y2="262.2"/>
<rect class="cd" x="169.60" y="258.9" width="1.8" height="2.8"/>
<line class="wr" x1="173.50" y1="255.9" x2="173.50" y2="262.8"/>
<rect class="cd" x="172.60" y="259.5" width="1.8" height="2.8"/>
<rect class="cu" x="175.60" y="258.3" width="1.8" height="1.5"/>
<line class="wg" x1="179.50" y1="240.2" x2="179.50" y2="258.4"/>
<rect class="cu" x="178.60" y="242.5" width="1.8" height="15.4"/>
<rect class="cd" x="181.60" y="242.0" width="1.8" height="5.9"/>
<rect class="cu" x="184.60" y="245.7" width="1.8" height="3.4"/>
<rect class="cd" x="187.60" y="245.7" width="1.8" height="2.2"/>
<rect class="cd" x="191.60" y="248.2" width="1.8" height="0.5"/>
<line class="wr" x1="195.50" y1="240.8" x2="195.50" y2="247.7"/>
<rect x="194.20" y="246.5" width="2.6" height="1.2" fill="#a8413c"/>
<rect class="cd" x="197.60" y="247.0" width="1.8" height="0.5"/>
<line class="wr" x1="201.50" y1="244.0" x2="201.50" y2="248.7"/>
<rect class="cd" x="200.60" y="247.6" width="1.8" height="0.6"/>
<rect class="cd" x="203.60" y="247.5" width="1.8" height="3.5"/>
<line class="wr" x1="207.50" y1="245.2" x2="207.50" y2="251.5"/>
<rect class="cd" x="206.60" y="248.9" width="1.8" height="2.1"/>
<rect class="cd" x="209.60" y="248.2" width="1.8" height="4.1"/>
<rect class="cd" x="212.60" y="252.0" width="1.8" height="4.7"/>
<rect class="cd" x="215.60" y="257.7" width="1.8" height="3.4"/>
<rect class="cd" x="218.60" y="262.1" width="1.8" height="2.7"/>
<rect class="cd" x="221.60" y="264.5" width="1.8" height="1.0"/>
<rect class="cd" x="224.60" y="264.5" width="1.8" height="2.2"/>
<line class="wg" x1="228.50" y1="251.5" x2="228.50" y2="266.6"/>
<rect class="cu" x="227.60" y="255.8" width="1.8" height="10.3"/>
<line class="wr" x1="232.50" y1="248.4" x2="232.50" y2="257.8"/>
<rect class="cd" x="231.60" y="254.5" width="1.8" height="2.8"/>
<line class="wg" x1="235.50" y1="250.9" x2="235.50" y2="255.3"/>
<rect class="cu" x="234.60" y="253.3" width="1.8" height="0.8"/>
<rect class="cd" x="237.60" y="253.9" width="1.8" height="2.8"/>
<rect class="cd" x="240.60" y="255.1" width="1.8" height="2.2"/>
<rect class="cd" x="243.60" y="257.9" width="1.8" height="3.1"/>
<line class="wr" x1="247.50" y1="255.0" x2="247.50" y2="260.0"/>
<rect x="246.20" y="258.7" width="2.6" height="1.2" fill="#a8413c"/>
<line class="wr" x1="250.50" y1="257.0" x2="250.50" y2="260.7"/>
<rect class="cd" x="249.60" y="259.3" width="1.8" height="0.9"/>
<rect x="252.20" y="261.4" width="2.6" height="1.2" fill="#a8413c"/>
<line class="wg" x1="256.50" y1="254.4" x2="256.50" y2="264.5"/>
<rect class="cu" x="255.60" y="259.3" width="1.8" height="3.4"/>
<rect x="258.20" y="259.3" width="2.6" height="1.2" fill="#2a8c63"/>
<line class="wg" x1="262.50" y1="256.3" x2="262.50" y2="262.6"/>
<rect class="cu" x="261.60" y="258.7" width="1.8" height="1.5"/>
<line class="wg" x1="265.50" y1="251.6" x2="265.50" y2="258.2"/>
<rect class="cu" x="264.60" y="256.2" width="1.8" height="1.5"/>
<rect class="cd" x="267.60" y="255.5" width="1.8" height="2.2"/>
<rect class="cd" x="271.60" y="258.7" width="1.8" height="5.3"/>
<rect class="cd" x="274.60" y="265.0" width="1.8" height="6.9"/>
<rect class="cd" x="277.60" y="273.2" width="1.8" height="6.5"/>
<rect class="cd" x="280.60" y="280.7" width="1.8" height="3.8"/>
<line class="wr" x1="284.50" y1="280.2" x2="284.50" y2="287.1"/>
<rect class="cd" x="283.60" y="284.5" width="1.8" height="0.9"/>
<rect class="cd" x="286.60" y="285.7" width="1.8" height="5.3"/>
<rect class="cd" x="289.60" y="295.1" width="1.8" height="3.4"/>
<line class="wg" x1="293.50" y1="285.2" x2="293.50" y2="302.2"/>
<rect class="cu" x="292.60" y="289.5" width="1.8" height="10.3"/>
<line class="wg" x1="296.50" y1="283.3" x2="296.50" y2="290.9"/>
<rect class="cu" x="295.60" y="286.4" width="1.8" height="2.1"/>
<line class="wg" x1="299.50" y1="280.2" x2="299.50" y2="289.6"/>
<rect class="cu" x="298.60" y="283.8" width="1.8" height="5.3"/>
<line class="wr" x1="302.50" y1="280.2" x2="302.50" y2="287.7"/>
<rect class="cd" x="301.60" y="282.5" width="1.8" height="4.7"/>
<line class="wr" x1="305.50" y1="284.6" x2="305.50" y2="289.2"/>
<rect x="304.20" y="288.2" width="2.6" height="1.2" fill="#a8413c"/>
<rect class="cd" x="308.60" y="290.1" width="1.8" height="5.3"/>
<line class="wr" x1="312.50" y1="292.8" x2="312.50" y2="296.3"/>
<rect class="cd" x="311.60" y="295.1" width="1.8" height="0.7"/>
<line class="wr" x1="315.50" y1="292.8" x2="315.50" y2="299.7"/>
<rect class="cd" x="314.60" y="295.1" width="1.8" height="4.1"/>
<rect class="cd" x="317.60" y="301.4" width="1.8" height="1.5"/>
<line class="wr" x1="321.50" y1="299.0" x2="321.50" y2="302.8"/>
<rect x="320.20" y="301.6" width="2.6" height="1.2" fill="#a8413c"/>
<rect class="cd" x="323.60" y="302.3" width="1.8" height="1.5"/>
<line class="wg" x1="327.50" y1="298.4" x2="327.50" y2="302.6"/>
<rect class="cu" x="326.60" y="301.8" width="1.8" height="0.3"/>
<rect class="cu" x="329.60" y="290.8" width="1.8" height="4.0"/>
<line class="wr" x1="333.50" y1="287.1" x2="333.50" y2="297.2"/>
<rect class="cd" x="332.60" y="294.5" width="1.8" height="2.2"/>
<rect class="cd" x="335.60" y="295.8" width="1.8" height="0.9"/>
<rect class="cd" x="338.60" y="292.6" width="1.8" height="5.7"/>
<line class="wg" x1="342.50" y1="279.6" x2="342.50" y2="298.8"/>
<rect class="cu" x="341.60" y="282.5" width="1.8" height="15.8"/>
<line class="wg" x1="346.50" y1="275.2" x2="346.50" y2="282.0"/>
<rect x="345.20" y="280.8" width="2.6" height="1.2" fill="#2a8c63"/>
<line class="wg" x1="349.50" y1="276.4" x2="349.50" y2="285.2"/>
<rect class="cu" x="348.60" y="277.5" width="1.8" height="4.0"/>
<line class="wr" x1="352.50" y1="275.2" x2="352.50" y2="281.5"/>
<rect class="cd" x="351.60" y="278.2" width="1.8" height="2.8"/>
<rect class="cd" x="354.60" y="280.7" width="1.8" height="3.0"/>
<rect class="cd" x="357.60" y="284.5" width="1.8" height="4.2"/>
<rect class="cd" x="360.60" y="289.7" width="1.8" height="2.3"/>
<line class="wr" x1="364.50" y1="287.7" x2="364.50" y2="292.5"/>
<rect x="363.20" y="291.4" width="2.6" height="1.2" fill="#a8413c"/>
<rect class="cd" x="366.60" y="291.8" width="1.8" height="4.0"/>
<rect class="cd" x="369.60" y="295.1" width="1.8" height="3.7"/>
<rect class="cd" x="372.60" y="298.5" width="1.8" height="2.6"/>
<line class="wg" x1="376.50" y1="295.9" x2="376.50" y2="302.8"/>
<rect class="cu" x="375.60" y="298.9" width="1.8" height="3.4"/>
<rect class="cd" x="378.60" y="298.5" width="1.8" height="1.3"/>
<rect class="cd" x="381.60" y="301.8" width="1.8" height="1.5"/>
<rect class="cd" x="385.60" y="303.7" width="1.8" height="0.8"/>
<rect class="cd" x="388.60" y="304.9" width="1.8" height="4.1"/>
<rect class="cd" x="391.60" y="309.3" width="1.8" height="4.7"/>
<rect class="cd" x="394.60" y="312.9" width="1.8" height="13.0"/>
<line class="wr" x1="398.50" y1="325.2" x2="398.50" y2="334.0"/>
<rect class="cd" x="397.60" y="325.7" width="1.8" height="4.6"/>
<line class="wg" x1="401.50" y1="320.8" x2="401.50" y2="330.8"/>
<rect class="cu" x="400.60" y="322.9" width="1.8" height="7.4"/>
<line class="wg" x1="404.50" y1="318.9" x2="404.50" y2="322.4"/>
<rect class="cu" x="403.60" y="321.0" width="1.8" height="0.9"/>
<rect class="cu" x="406.60" y="317.5" width="1.8" height="2.0"/>
<line class="wg" x1="410.50" y1="310.1" x2="410.50" y2="316.6"/>
<rect class="cu" x="409.60" y="313.1" width="1.8" height="3.0"/>
<line class="wg" x1="413.50" y1="305.0" x2="413.50" y2="313.2"/>
<rect class="cu" x="412.60" y="306.5" width="1.8" height="6.2"/>
<line class="wr" x1="416.50" y1="303.2" x2="416.50" y2="312.6"/>
<rect class="cd" x="415.60" y="305.3" width="1.8" height="6.8"/>
<line class="wr" x1="419.50" y1="308.8" x2="419.50" y2="313.9"/>
<rect x="418.20" y="312.0" width="2.6" height="1.2" fill="#a8413c"/>
<rect class="cd" x="421.60" y="312.5" width="1.8" height="2.8"/>
<line class="wr" x1="426.50" y1="312.6" x2="426.50" y2="316.4"/>
<rect x="425.20" y="312.6" width="2.6" height="1.2" fill="#a8413c"/>
<rect class="cd" x="428.60" y="314.4" width="1.8" height="3.4"/>
<rect class="cd" x="431.60" y="317.5" width="1.8" height="2.2"/>
<rect class="cd" x="434.60" y="320.7" width="1.8" height="6.2"/>
<rect class="cd" x="437.60" y="327.5" width="1.8" height="2.0"/>
<line class="wr" x1="441.50" y1="325.8" x2="441.50" y2="329.6"/>
<rect x="440.20" y="327.6" width="2.6" height="1.2" fill="#a8413c"/>
<rect class="cd" x="443.60" y="327.9" width="1.8" height="8.1"/>
<line class="wg" x1="447.50" y1="332.1" x2="447.50" y2="338.4"/>
<rect class="cu" x="446.60" y="336.4" width="1.8" height="1.5"/>
<line class="wr" x1="450.50" y1="334.0" x2="450.50" y2="337.7"/>
<rect class="cd" x="449.60" y="336.4" width="1.8" height="0.8"/>
<line class="wr" x1="453.50" y1="333.3" x2="453.50" y2="337.1"/>
<rect x="452.20" y="335.9" width="2.6" height="1.2" fill="#a8413c"/>
<line class="wr" x1="456.50" y1="334.0" x2="456.50" y2="338.4"/>
<rect class="cd" x="455.60" y="336.4" width="1.8" height="1.5"/>
<line class="wr" x1="459.50" y1="335.9" x2="459.50" y2="343.4"/>
<rect class="cd" x="458.60" y="338.2" width="1.8" height="4.7"/>
<rect class="cd" x="462.60" y="342.6" width="1.8" height="9.5"/>
<rect class="cd" x="465.60" y="353.1" width="1.8" height="4.9"/>
<rect class="cd" x="468.60" y="356.5" width="1.8" height="3.0"/>
<rect class="cu" x="471.60" y="358.3" width="1.8" height="1.2"/>
<rect class="cu" x="474.60" y="357.1" width="1.8" height="1.4"/>
<rect class="cu" x="477.60" y="350.2" width="1.8" height="6.5"/>
<line class="wg" x1="481.50" y1="344.3" x2="481.50" y2="351.0"/>
<rect class="cu" x="480.60" y="347.0" width="1.8" height="0.5"/>
<rect class="cd" x="483.60" y="347.7" width="1.8" height="6.8"/>
<line class="wr" x1="487.50" y1="352.8" x2="487.50" y2="357.8"/>
<rect x="486.20" y="354.5" width="2.6" height="1.2" fill="#a8413c"/>
<rect class="cu" x="489.60" y="352.7" width="1.8" height="1.5"/>
<rect x="492.20" y="351.5" width="2.6" height="1.2" fill="#2a8c63"/>
<rect class="cd" x="495.60" y="353.9" width="1.8" height="0.3"/>
<rect class="cu" x="499.60" y="352.1" width="1.8" height="0.8"/>
<line class="wg" x1="503.50" y1="348.4" x2="503.50" y2="351.6"/>
<rect class="cu" x="502.60" y="350.5" width="1.8" height="0.6"/>
<rect class="cu" x="505.60" y="349.5" width="1.8" height="0.3"/>
<rect class="cd" x="508.60" y="351.8" width="1.8" height="0.5"/>
<rect class="cd" x="511.60" y="354.5" width="1.8" height="2.8"/>
<line class="wg" x1="515.50" y1="349.0" x2="515.50" y2="356.0"/>
<rect class="cu" x="514.60" y="352.1" width="1.8" height="3.4"/>
<rect class="cu" x="517.60" y="355.8" width="1.8" height="0.9"/>
<rect x="520.20" y="355.3" width="2.6" height="1.2" fill="#a8413c"/>
<rect x="523.20" y="354.6" width="2.6" height="1.2" fill="#a8413c"/>
<rect class="cd" x="526.60" y="355.1" width="1.8" height="2.2"/>
<rect class="cd" x="529.60" y="357.6" width="1.8" height="4.7"/>
<rect class="cu" x="532.60" y="361.5" width="1.8" height="1.0"/>
<rect class="cu" x="535.60" y="359.5" width="1.8" height="0.3"/>
<rect class="cu" x="539.60" y="356.4" width="1.8" height="2.7"/>
<rect class="cd" x="542.60" y="356.4" width="1.8" height="2.1"/>
<rect x="545.20" y="358.4" width="2.6" height="1.2" fill="#a8413c"/>
<rect x="548.20" y="358.2" width="2.6" height="1.2" fill="#2a8c63"/>
<rect x="551.20" y="357.7" width="2.6" height="1.2" fill="#2a8c63"/>
<rect class="cu" x="554.60" y="356.4" width="1.8" height="0.9"/>
<rect class="cu" x="557.60" y="352.6" width="1.8" height="2.2"/>
<rect x="560.20" y="350.9" width="2.6" height="1.2" fill="#2a8c63"/>
<rect x="563.20" y="350.7" width="2.6" height="1.2" fill="#2a8c63"/>
<rect class="cu" x="566.60" y="349.5" width="1.8" height="1.2"/>
<line class="wg" x1="570.50" y1="340.8" x2="570.50" y2="348.3"/>
<rect class="cu" x="569.60" y="343.8" width="1.8" height="4.0"/>
<line class="wg" x1="573.50" y1="335.2" x2="573.50" y2="341.4"/>
<rect class="cu" x="572.60" y="338.2" width="1.8" height="2.7"/>
<line class="wg" x1="577.50" y1="316.3" x2="577.50" y2="337.0"/>
<rect class="cu" x="576.60" y="318.1" width="1.8" height="18.4"/>
<line class="wr" x1="580.50" y1="312.0" x2="580.50" y2="332.0"/>
<rect class="cd" x="579.60" y="320.5" width="1.8" height="11.0"/>
<line class="wr" x1="583.50" y1="327.6" x2="583.50" y2="336.4"/>
<rect class="cd" x="582.60" y="330.0" width="1.8" height="5.9"/>
<line class="wg" x1="586.50" y1="329.5" x2="586.50" y2="336.4"/>
<rect class="cu" x="585.60" y="333.1" width="1.8" height="2.8"/>
<line class="wg" x1="589.50" y1="329.5" x2="589.50" y2="335.0"/>
<rect class="cu" x="588.60" y="331.9" width="1.8" height="0.9"/>
<rect class="cd" x="591.60" y="332.5" width="1.8" height="4.7"/>
<line class="wr" x1="595.50" y1="330.8" x2="595.50" y2="336.4"/>
<rect x="594.20" y="335.2" width="2.6" height="1.2" fill="#a8413c"/>
<rect class="cd" x="597.60" y="335.7" width="1.8" height="3.3"/>
<rect class="cd" x="600.60" y="338.8" width="1.8" height="1.5"/>
<rect class="cd" x="603.60" y="341.3" width="1.8" height="9.4"/>
<rect class="cd" x="606.60" y="352.0" width="1.8" height="5.3"/>
<line class="wr" x1="610.50" y1="353.4" x2="610.50" y2="357.8"/>
<rect x="609.20" y="355.3" width="2.6" height="1.2" fill="#a8413c"/>
<rect x="612.20" y="355.3" width="2.6" height="1.2" fill="#a8413c"/>
<rect class="cd" x="616.60" y="355.1" width="1.8" height="1.5"/>
<rect class="cd" x="619.60" y="357.6" width="1.8" height="2.2"/>
<line class="wr" x1="623.50" y1="359.6" x2="623.50" y2="365.3"/>
<rect class="cd" x="622.60" y="360.1" width="1.8" height="2.2"/>
<rect class="cu" x="625.60" y="359.5" width="1.8" height="2.8"/>
<rect class="cd" x="628.60" y="359.8" width="1.8" height="2.5"/>
<rect x="631.20" y="360.3" width="2.6" height="1.2" fill="#a8413c"/>
<line class="wr" x1="635.50" y1="360.3" x2="635.50" y2="367.8"/>
<rect x="634.20" y="362.2" width="2.6" height="1.2" fill="#a8413c"/>
<rect class="cd" x="637.60" y="363.0" width="1.8" height="0.3"/>
<rect class="cu" x="640.60" y="358.3" width="1.8" height="4.6"/>
<rect class="cu" x="643.60" y="355.1" width="1.8" height="3.4"/>
<line class="wg" x1="647.50" y1="342.7" x2="647.50" y2="355.3"/>
<rect class="cu" x="646.60" y="346.3" width="1.8" height="8.5"/>
<rect class="cd" x="649.60" y="345.5" width="1.8" height="5.5"/>
<line class="wr" x1="654.50" y1="348.3" x2="654.50" y2="353.4"/>
<rect class="cd" x="653.60" y="351.4" width="1.8" height="1.5"/>
<rect x="656.20" y="353.4" width="2.6" height="1.2" fill="#a8413c"/>
<rect x="659.20" y="353.4" width="2.6" height="1.2" fill="#a8413c"/>
<line class="wg" x1="663.50" y1="348.3" x2="663.50" y2="354.3"/>
<rect class="cu" x="662.60" y="351.0" width="1.8" height="2.8"/>
<rect class="cd" x="665.60" y="351.7" width="1.8" height="0.3"/>
<rect class="cd" x="668.60" y="353.2" width="1.8" height="0.5"/>
<rect class="cd" x="671.60" y="353.2" width="1.8" height="0.5"/>
<line class="wg" x1="675.50" y1="347.1" x2="675.50" y2="353.3"/>
<rect class="cu" x="674.60" y="350.3" width="1.8" height="2.5"/>
<rect class="cd" x="677.60" y="350.3" width="1.8" height="0.8"/>
<rect x="680.20" y="350.4" width="2.6" height="1.2" fill="#a8413c"/>
<rect x="683.20" y="350.4" width="2.6" height="1.2" fill="#a8413c"/>
<rect x="686.20" y="350.6" width="2.6" height="1.2" fill="#a8413c"/>
<rect x="689.20" y="350.5" width="2.6" height="1.2" fill="#a8413c"/>
<rect class="cu" x="693.60" y="347.5" width="1.8" height="3.5"/>
<line class="wg" x1="697.50" y1="345.8" x2="697.50" y2="350.8"/>
<rect x="696.20" y="346.8" width="2.6" height="1.2" fill="#2a8c63"/>
<line class="wr" x1="700.50" y1="348.3" x2="700.50" y2="351.7"/>
<rect x="699.20" y="350.6" width="2.6" height="1.2" fill="#a8413c"/>
<rect x="702.20" y="351.1" width="2.6" height="1.2" fill="#a8413c"/>
<rect x="705.20" y="351.5" width="2.6" height="1.2" fill="#a8413c"/>
<rect x="708.20" y="351.5" width="2.6" height="1.2" fill="#a8413c"/>
<rect x="711.20" y="351.4" width="2.6" height="1.2" fill="#a8413c"/>
<line class="wg" x1="715.50" y1="347.7" x2="715.50" y2="351.5"/>
<rect class="cu" x="714.60" y="350.1" width="1.8" height="0.9"/>
<rect class="cu" x="717.60" y="348.8" width="1.8" height="1.5"/>
<rect class="cu" x="720.60" y="346.9" width="1.8" height="0.9"/>
<rect class="cu" x="723.60" y="340.7" width="1.8" height="5.2"/>
<rect class="cd" x="726.60" y="340.0" width="1.8" height="0.3"/>
<line class="wr" x1="731.50" y1="338.3" x2="731.50" y2="341.4"/>
<rect x="730.20" y="340.2" width="2.6" height="1.2" fill="#a8413c"/>
<rect class="cd" x="733.60" y="341.9" width="1.8" height="4.6"/>
<rect class="cd" x="736.60" y="347.9" width="1.8" height="1.6"/>
<line class="wg" x1="740.50" y1="348.3" x2="740.50" y2="351.2"/>
<rect class="cu" x="739.60" y="348.8" width="1.8" height="0.7"/>
<rect x="742.20" y="347.2" width="2.6" height="1.2" fill="#2a8c63"/>
<rect class="cd" x="745.60" y="347.5" width="1.8" height="1.2"/>
<rect class="cd" x="748.60" y="348.8" width="1.8" height="0.3"/>
<rect class="cd" x="751.60" y="349.5" width="1.8" height="0.8"/>
<rect class="cu" x="754.60" y="348.2" width="1.8" height="2.8"/>
<rect class="cu" x="757.60" y="345.0" width="1.8" height="1.9"/>
<rect class="cu" x="760.60" y="345.0" width="1.8" height="0.9"/>
<rect class="cu" x="763.60" y="344.5" width="1.8" height="1.7"/>
<rect class="cu" x="766.60" y="343.4" width="1.8" height="0.3"/>
<rect class="cu" x="770.60" y="342.5" width="1.8" height="0.3"/>
<rect class="cd" x="773.60" y="342.5" width="1.8" height="0.3"/>
<line class="wg" x1="777.50" y1="339.5" x2="777.50" y2="342.7"/>
<rect x="776.20" y="341.6" width="2.6" height="1.2" fill="#2a8c63"/>
<rect x="779.20" y="341.3" width="2.6" height="1.2" fill="#a8413c"/>
<rect class="cd" x="782.60" y="342.5" width="1.8" height="0.3"/>
<rect x="785.20" y="342.8" width="2.6" height="1.2" fill="#a8413c"/>
<rect x="788.20" y="343.3" width="2.6" height="1.2" fill="#a8413c"/>
<rect class="cd" x="791.60" y="345.0" width="1.8" height="0.3"/>
<rect class="cd" x="794.60" y="346.7" width="1.8" height="0.5"/>
<rect class="cd" x="797.60" y="346.9" width="1.8" height="0.3"/>
<line class="wg" x1="801.50" y1="344.5" x2="801.50" y2="347.4"/>
<rect x="800.20" y="346.3" width="2.6" height="1.2" fill="#2a8c63"/>
<line class="wg" x1="804.50" y1="342.0" x2="804.50" y2="347.0"/>
<rect x="803.20" y="345.8" width="2.6" height="1.2" fill="#2a8c63"/>
<rect class="cd" x="807.60" y="346.9" width="1.8" height="2.1"/>
<rect x="810.20" y="348.3" width="2.6" height="1.2" fill="#a8413c"/>
<rect class="cu" x="813.60" y="350.9" width="1.8" height="0.3"/>
<rect class="cu" x="816.60" y="348.2" width="1.8" height="0.3"/>
<line class="wg" x1="820.50" y1="344.5" x2="820.50" y2="347.9"/>
<rect x="819.20" y="346.8" width="2.6" height="1.2" fill="#2a8c63"/>
<rect x="822.20" y="346.8" width="2.6" height="1.2" fill="#a8413c"/>
<rect x="825.20" y="346.8" width="2.6" height="1.2" fill="#2a8c63"/>
<rect x="828.20" y="346.8" width="2.6" height="1.2" fill="#a8413c"/>
<rect class="cu" x="831.60" y="341.6" width="1.8" height="5.6"/>
<rect class="cd" x="834.60" y="340.4" width="1.8" height="0.7"/>
<rect class="cd" x="837.60" y="341.3" width="1.8" height="1.5"/>
<rect class="cd" x="840.60" y="343.8" width="1.8" height="0.9"/>
<line class="wg" x1="844.50" y1="340.1" x2="844.50" y2="343.3"/>
<rect class="cu" x="843.60" y="341.9" width="1.8" height="0.9"/>
<rect x="847.20" y="340.9" width="2.6" height="1.2" fill="#2a8c63"/>
<rect x="850.20" y="340.9" width="2.6" height="1.2" fill="#a8413c"/>
<rect class="cd" x="853.60" y="343.8" width="1.8" height="1.5"/>
<rect class="cd" x="856.60" y="344.6" width="1.8" height="1.1"/>
<rect class="cd" x="859.60" y="345.0" width="1.8" height="0.9"/>
<rect class="cd" x="862.60" y="345.4" width="1.8" height="0.8"/>
<rect class="cd" x="865.60" y="346.3" width="1.8" height="0.6"/>
<rect class="cd" x="868.60" y="351.3" width="1.8" height="1.5"/>
<rect class="cu" x="871.60" y="347.9" width="1.8" height="3.3"/>
<rect class="cu" x="874.60" y="345.4" width="1.8" height="2.0"/>
<rect class="cu" x="877.60" y="340.4" width="1.8" height="4.5"/>
<line class="wg" x1="881.50" y1="331.3" x2="881.50" y2="339.5"/>
<rect class="cu" x="880.60" y="333.7" width="1.8" height="5.3"/>
<line class="wg" x1="885.50" y1="326.3" x2="885.50" y2="333.2"/>
<rect class="cu" x="884.60" y="331.8" width="1.8" height="0.3"/>
<rect class="cd" x="887.60" y="331.6" width="1.8" height="5.8"/>
<rect class="cd" x="890.60" y="349.2" width="1.8" height="2.0"/>
<rect class="cd" x="893.60" y="349.4" width="1.8" height="1.5"/>
<rect class="cd" x="896.60" y="349.4" width="1.8" height="1.5"/>
<rect class="cd" x="899.60" y="351.9" width="1.8" height="1.8"/>
<rect class="cd" x="902.60" y="353.2" width="1.8" height="1.3"/>
<rect class="cu" x="905.60" y="351.3" width="1.8" height="0.6"/>
<rect class="cd" x="908.60" y="351.9" width="1.8" height="0.9"/>
<rect class="cd" x="911.60" y="353.8" width="1.8" height="1.5"/>
<rect class="cd" x="914.60" y="355.7" width="1.8" height="0.3"/>
<line class="wr" x1="918.50" y1="353.3" x2="918.50" y2="356.2"/>
<rect x="917.20" y="355.0" width="2.6" height="1.2" fill="#a8413c"/>
<rect class="cd" x="920.60" y="357.5" width="1.8" height="1.0"/>
<rect class="cd" x="924.60" y="361.7" width="1.8" height="2.0"/>
<line class="wg" x1="928.50" y1="354.6" x2="928.50" y2="364.6"/>
<rect class="cu" x="927.60" y="361.4" width="1.8" height="1.5"/>
<rect class="cu" x="930.60" y="357.5" width="1.8" height="2.5"/>
<line class="wg" x1="934.50" y1="355.2" x2="934.50" y2="360.9"/>
<rect class="cu" x="933.60" y="356.3" width="1.8" height="0.3"/>
<rect class="cd" x="936.60" y="355.7" width="1.8" height="0.5"/>
<line class="wr" x1="940.50" y1="358.3" x2="940.50" y2="362.7"/>
<rect x="939.20" y="359.0" width="2.6" height="1.2" fill="#a8413c"/>
<rect class="cd" x="942.60" y="362.8" width="1.8" height="2.9"/>
<rect class="cd" x="945.60" y="363.4" width="1.8" height="2.6"/>
<rect class="cd" x="948.60" y="369.0" width="1.8" height="7.0"/>
<line class="wg" x1="952.50" y1="375.2" x2="952.50" y2="387.7"/>
<rect class="cu" x="951.60" y="378.0" width="1.8" height="6.1"/>
<line class="wg" x1="955.50" y1="375.8" x2="955.50" y2="382.7"/>
<rect class="cu" x="954.60" y="380.1" width="1.8" height="0.9"/>
<rect class="cd" x="957.60" y="380.1" width="1.8" height="1.5"/>
<rect class="cd" x="961.60" y="380.5" width="1.8" height="6.1"/>
<rect class="cd" x="964.60" y="389.5" width="1.8" height="3.4"/>
<rect x="967.20" y="391.0" width="2.6" height="1.2" fill="#a8413c"/>
<line class="wr" x1="971.50" y1="394.0" x2="971.50" y2="400.3"/>
<rect class="cd" x="970.60" y="396.5" width="1.8" height="3.3"/>
<rect class="cd" x="973.60" y="399.5" width="1.8" height="4.3"/>
<rect class="cd" x="976.60" y="400.8" width="1.8" height="3.0"/>
<rect class="cu" x="979.60" y="398.5" width="1.8" height="1.0"/>
<rect class="cu" x="982.60" y="397.5" width="1.8" height="2.0"/>
<rect class="cd" x="985.60" y="400.2" width="1.8" height="0.6"/>
<rect class="cu" x="988.60" y="398.0" width="1.8" height="0.5"/>
<rect class="cu" x="991.60" y="396.8" width="1.8" height="0.5"/>
<rect class="cd" x="994.60" y="395.1" width="1.8" height="2.4"/>
<rect x="997.20" y="395.3" width="2.6" height="1.2" fill="#2a8c63"/>
<rect class="cu" x="1001.60" y="391.8" width="1.8" height="4.5"/>
<rect class="cu" x="1004.60" y="387.6" width="1.8" height="1.1"/>
<line class="wg" x1="1008.50" y1="381.5" x2="1008.50" y2="385.6"/>
<rect class="cu" x="1007.60" y="382.0" width="1.8" height="0.5"/>
<rect x="1010.20" y="377.9" width="2.6" height="1.2" fill="#2a8c63"/>
<rect x="1013.20" y="375.5" width="2.6" height="1.2" fill="#2a8c63"/>
<rect x="1016.20" y="371.8" width="2.6" height="1.2" fill="#2a8c63"/>
<rect x="1019.20" y="368.3" width="2.6" height="1.2" fill="#2a8c63"/>
<rect class="cu" x="1022.60" y="365.5" width="1.8" height="0.6"/>
<rect x="1025.20" y="360.9" width="2.6" height="1.2" fill="#2a8c63"/>
<line class="wg" x1="1029.50" y1="357.6" x2="1029.50" y2="363.2"/>
<rect class="cu" x="1028.60" y="358.1" width="1.8" height="0.9"/>
<rect class="cd" x="1031.60" y="358.1" width="1.8" height="5.9"/>
<rect x="1034.20" y="366.8" width="2.6" height="1.2" fill="#a8413c"/>
<rect class="cu" x="1037.60" y="369.5" width="1.8" height="1.4"/>
<rect class="cu" x="1041.60" y="368.8" width="1.8" height="4.0"/>
<rect class="cd" x="1044.60" y="366.9" width="1.8" height="2.8"/>
<rect class="cu" x="1047.60" y="369.5" width="1.8" height="3.0"/>
<rect class="cd" x="1050.60" y="369.5" width="1.8" height="0.8"/>
<rect class="cd" x="1053.60" y="369.7" width="1.8" height="1.2"/>
<rect class="cd" x="1056.60" y="371.3" width="1.8" height="1.2"/>
<rect class="cd" x="1059.60" y="372.5" width="1.8" height="2.4"/>
<rect class="cd" x="1062.60" y="373.5" width="1.8" height="1.2"/>
<rect class="cd" x="1065.60" y="375.5" width="1.8" height="0.4"/>
<rect x="1068.20" y="372.9" width="2.6" height="1.2" fill="#2a8c63"/>
<rect x="1071.20" y="373.1" width="2.6" height="1.2" fill="#a8413c"/>
<rect class="cu" x="1074.60" y="373.2" width="1.8" height="0.3"/>
<rect class="cd" x="1078.60" y="373.2" width="1.8" height="2.7"/>
<rect class="cd" x="1081.60" y="374.2" width="1.8" height="1.7"/>
<rect class="cu" x="1084.60" y="374.1" width="1.8" height="1.9"/>
<rect class="cd" x="1087.60" y="373.9" width="1.8" height="0.9"/>
<rect x="1090.20" y="374.6" width="2.6" height="1.2" fill="#a8413c"/>
<rect class="cd" x="1093.60" y="375.8" width="1.8" height="0.4"/>
<rect class="cu" x="1096.60" y="375.5" width="1.8" height="0.7"/>
<rect class="cd" x="1099.60" y="374.7" width="1.8" height="0.3"/>
<rect class="cu" x="1102.60" y="373.2" width="1.8" height="0.5"/>
<rect class="cu" x="1105.60" y="371.0" width="1.8" height="2.2"/>
<rect class="cu" x="1108.60" y="368.2" width="1.8" height="0.5"/>
<rect class="cu" x="1111.60" y="366.3" width="1.8" height="0.9"/>
<rect class="cu" x="1115.60" y="365.1" width="1.8" height="2.1"/>
<line class="wg" x1="1119.50" y1="352.0" x2="1119.50" y2="363.3"/>
<rect class="cu" x="1118.60" y="357.9" width="1.8" height="4.9"/>
<line class="wg" x1="1122.50" y1="351.4" x2="1122.50" y2="355.2"/>
<rect class="cu" x="1121.60" y="353.8" width="1.8" height="0.9"/>
<rect class="cd" x="1124.60" y="353.1" width="1.8" height="3.8"/>
<rect class="cd" x="1127.60" y="355.7" width="1.8" height="2.5"/>
<rect class="cd" x="1130.60" y="355.9" width="1.8" height="2.3"/>
<line class="wg" x1="1134.50" y1="358.9" x2="1134.50" y2="363.3"/>
<rect class="cu" x="1133.60" y="361.3" width="1.8" height="1.5"/>
<rect x="1136.20" y="359.3" width="2.6" height="1.2" fill="#a8413c"/>
<rect class="cd" x="1139.60" y="359.5" width="1.8" height="2.4"/>
<line class="wg" x1="1143.50" y1="359.5" x2="1143.50" y2="362.7"/>
<rect x="1142.20" y="360.8" width="2.6" height="1.2" fill="#2a8c63"/>
<rect x="1145.20" y="360.8" width="2.6" height="1.2" fill="#2a8c63"/>
<rect class="cd" x="1148.60" y="360.7" width="1.8" height="2.1"/>
<rect class="cd" x="1151.60" y="362.5" width="1.8" height="0.3"/>
<line class="wg" x1="1156.50" y1="358.7" x2="1156.50" y2="363.3"/>
<rect class="cu" x="1155.60" y="361.3" width="1.8" height="1.5"/>
<rect class="cd" x="1158.60" y="360.9" width="1.8" height="1.9"/>
<rect class="cd" x="1161.60" y="363.8" width="1.8" height="0.3"/>
<line class="wr" x1="1165.50" y1="361.4" x2="1165.50" y2="364.2"/>
<rect class="cd" x="1164.60" y="363.2" width="1.8" height="0.5"/>
<rect class="cd" x="1167.60" y="364.5" width="1.8" height="2.0"/>
<line class="wr" x1="1171.50" y1="364.6" x2="1171.50" y2="368.0"/>
<rect class="cd" x="1170.60" y="367.0" width="1.8" height="0.5"/>
<rect x="1173.20" y="367.3" width="2.6" height="1.2" fill="#a8413c"/>
<line class="wg" x1="1177.50" y1="364.0" x2="1177.50" y2="368.3"/>
<rect class="cu" x="1176.60" y="366.3" width="1.8" height="1.5"/>
<line class="wg" x1="1180.50" y1="362.7" x2="1180.50" y2="365.8"/>
<rect x="1179.20" y="364.6" width="2.6" height="1.2" fill="#2a8c63"/>
<rect class="cd" x="1182.60" y="365.5" width="1.8" height="0.5"/>
<rect class="cd" x="1185.60" y="366.0" width="1.8" height="1.0"/>
<rect class="cd" x="1188.60" y="367.0" width="1.8" height="1.7"/>
<rect class="cd" x="1191.60" y="368.8" width="1.8" height="0.3"/>
<rect x="1195.20" y="368.9" width="2.6" height="1.2" fill="#a8413c"/>
<rect class="cd" x="1198.60" y="371.0" width="1.8" height="1.5"/>
<rect class="cd" x="1201.60" y="373.2" width="1.8" height="1.6"/>
<rect class="cd" x="1204.60" y="375.1" width="1.8" height="0.7"/>
<rect x="1207.20" y="376.1" width="2.6" height="1.2" fill="#a8413c"/>
<line class="wg" x1="1211.50" y1="365.8" x2="1211.50" y2="376.8"/>
<rect class="cu" x="1210.60" y="368.8" width="1.8" height="7.5"/>
</g>
<line x1="266.4" y1="252.4" x2="1224" y2="361" stroke="#e136e1" stroke-width="2"/>
<circle cx="297.9" cy="269.9" r="6.3" fill="#168deb"/>
<text x="297.9" y="272.1" font-size="8px" font-weight="bold" fill="#fff" text-anchor="middle">P</text>
<circle cx="418.1" cy="290.1" r="6.3" fill="#168deb"/>
<text x="418.1" y="292.3" font-size="8px" font-weight="bold" fill="#fff" text-anchor="middle">P</text>
<circle cx="510.4" cy="331.5" r="8.6" fill="#7dd651"/>
<text x="510.59999999999997" y="334.4" font-size="8.6px" font-weight="bold" fill="#0f3306" text-anchor="middle">D</text>
<circle cx="901.6" cy="332.1" r="8.6" fill="#7dd651"/>
<text x="901.8000000000001" y="335.0" font-size="8.6px" font-weight="bold" fill="#0f3306" text-anchor="middle">D</text>
<text class="note" x="482.8" y="175.8" textLength="112.5" lengthAdjust="spacing">₹AJESH JAIN</text>
<text class="note" x="482.8" y="207" textLength="167.5" lengthAdjust="spacing">HEG LTD - CMP 831</text>
<text class="note" x="482.8" y="238.2" textLength="272" lengthAdjust="spacing">TARGET 1 - 1250 - 1575 - 2140</text>
<text x="16" y="411.6" font-size="16px" font-weight="bold" fill="#111" stroke="#111" stroke-width="0.6" textLength="71.8" lengthAdjust="spacing">Investing</text>
<text x="87.6" y="411.6" font-size="11.5px" fill="#555" textLength="23" lengthAdjust="spacing">.com</text>
<circle cx="65.3" cy="400.1" r="1.5" fill="#f5a623"/>
<rect x="6" y="424" width="1268" height="1" fill="#5a5a5a"/>
<rect x="1228" y="45" width="1" height="494" fill="#606060"/>
<rect x="6" y="538" width="1223" height="1" fill="#5a5a5a"/>
<text x="14.3" y="440.8" font-size="10.75px" fill="#222">Volume (20)</text>
<rect x="1229" y="57.0" width="3" height="1" fill="#555"/>
<text class="ax" x="1234" y="60.8">4400.00</text>
<rect x="1229" y="91.9" width="3" height="1" fill="#555"/>
<text class="ax" x="1234" y="95.7">4000.00</text>
<rect x="1229" y="126.7" width="3" height="1" fill="#555"/>
<text class="ax" x="1234" y="130.5">3600.00</text>
<rect x="1229" y="161.6" width="3" height="1" fill="#555"/>
<text class="ax" x="1234" y="165.4">3200.00</text>
<rect x="1229" y="196.4" width="3" height="1" fill="#555"/>
<text class="ax" x="1234" y="200.2">2800.00</text>
<rect x="1229" y="231.3" width="3" height="1" fill="#555"/>
<text class="ax" x="1234" y="235.1">2400.00</text>
<rect x="1229" y="266.1" width="3" height="1" fill="#555"/>
<text class="ax" x="1234" y="269.9">2000.00</text>
<rect x="1229" y="335.8" width="3" height="1" fill="#555"/>
<text class="ax" x="1234" y="339.6">1200.00</text>
<rect x="1229" y="405.5" width="3" height="1" fill="#555"/>
<text class="ax" x="1234" y="409.3">400.00</text>
<rect x="1229" y="441.8" width="3" height="1" fill="#555"/>
<text class="ax" x="1233.8" y="445.7" style="fill:#444">3M</text>
<rect x="1229" y="472.1" width="3" height="1" fill="#555"/>
<text class="ax" x="1233.8" y="476.0" style="fill:#444">2M</text>
<rect x="1229" y="502.1" width="3" height="1" fill="#555"/>
<text class="ax" x="1233.8" y="506.0" style="fill:#444">1M</text>
<rect x="1229" y="532.3" width="3" height="1" fill="#555"/>
<text class="ax" x="1233.8" y="536.2" style="fill:#444">0</text>
<rect x="1228" y="248.3" width="40" height="12.5" fill="#f9a01e"/>
<rect x="1229" y="254.0" width="3" height="1" fill="#fff" opacity="0.8"/>
<text class="lb" x="1234" y="257.8">2139.02</text>
<rect x="1228" y="297.5" width="40" height="12.5" fill="#f9a01e"/>
<rect x="1229" y="303.2" width="3" height="1" fill="#fff" opacity="0.8"/>
<text class="lb" x="1234" y="307.0">1574.49</text>
<rect x="1228" y="325.8" width="40" height="12.5" fill="#f9a01e"/>
<rect x="1229" y="331.5" width="3" height="1" fill="#fff" opacity="0.8"/>
<text class="lb" x="1234" y="335.3">1249.60</text>
<rect x="1228" y="362.2" width="35.4" height="12.5" fill="#4169e1"/>
<rect x="1229" y="367.9" width="3" height="1" fill="#fff" opacity="0.8"/>
<text class="lb" x="1234" y="371.7">830.95</text>
<rect x="1228" y="444.8" width="33.4" height="12" fill="#21c28a"/>
<rect x="1229" y="450.3" width="3" height="1" fill="#fff" opacity="0.8"/>
<text class="lb" x="1234.2" y="453.9">2.72M</text>
<rect x="1228" y="516" width="46.4" height="11.8" fill="#000"/>
<rect x="1229" y="521.4" width="3" height="1" fill="#fff"/>
<text class="lb" x="1234.2" y="525">367.316K</text>
<rect x="44.5" y="539" width="1" height="3" fill="#555"/>
<text class="tm" x="44.7" y="550.1" font-weight="bold">2019</text>
<rect x="115.7" y="539" width="1" height="3" fill="#555"/>
<text class="tm" x="115.9" y="550.1">Feb</text>
<rect x="177.5" y="539" width="1" height="3" fill="#555"/>
<text class="tm" x="177.7" y="550.1">Mar</text>
<rect x="294.0" y="539" width="1" height="3" fill="#555"/>
<text class="tm" x="294.2" y="550.1">May</text>
<rect x="362.0" y="539" width="1" height="3" fill="#555"/>
<text class="tm" x="362.2" y="550.1">Jun</text>
<rect x="423.9" y="539" width="1" height="3" fill="#555"/>
<text class="tm" x="424.1" y="550.1">2</text>
<rect x="490.9" y="539" width="1" height="3" fill="#555"/>
<text class="tm" x="491.1" y="550.1">Aug</text>
<rect x="552.7" y="539" width="1" height="3" fill="#555"/>
<text class="tm" x="552.9" y="550.1">Sep</text>
<rect x="673.2" y="539" width="1" height="3" fill="#555"/>
<text class="tm" x="673.4" y="550.1">Nov</text>
<rect x="734.5" y="539" width="1" height="3" fill="#555"/>
<text class="tm" x="734.7" y="550.1">Dec</text>
<rect x="799.5" y="539" width="1" height="3" fill="#555"/>
<text class="tm" x="799.7" y="550.1" font-weight="bold">2020</text>
<rect x="869.8" y="539" width="1" height="3" fill="#555"/>
<text class="tm" x="870.0" y="550.1">Feb</text>
<rect x="931.3" y="539" width="1" height="3" fill="#555"/>
<text class="tm" x="931.5" y="550.1">3</text>
<rect x="993.7" y="539" width="1" height="3" fill="#555"/>
<text class="tm" x="993.9" y="550.1">Apr</text>
<rect x="1108.0" y="539" width="1" height="3" fill="#555"/>
<text class="tm" x="1108.2" y="550.1">Jun</text>
<rect x="1174.9" y="539" width="1" height="3" fill="#555"/>
<text class="tm" x="1175.1" y="550.1">Jul</text>
</svg></body></html>
